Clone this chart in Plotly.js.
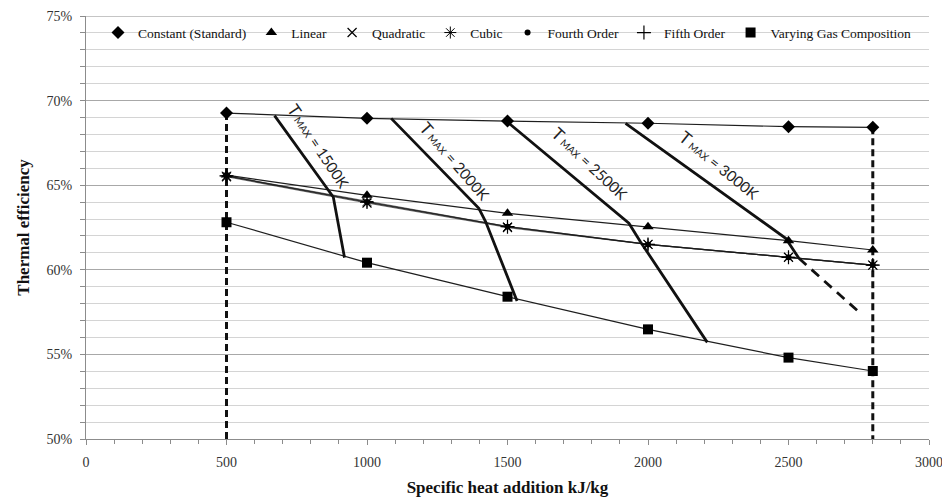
<!DOCTYPE html>
<html>
<head>
<meta charset="utf-8">
<script src="https://cdn.plot.ly/plotly-3.0.1.min.js"></script>
<style>
  html, body { margin: 0; padding: 0; background: #fff; }
  #chart { width: 942px; height: 499px; }
</style>
</head>
<body>
<div id="chart"></div>
<script>
// ---- data ----
const heatAddition = [500, 1000, 1500, 2000, 2500, 2800];
const seriesNames = ["Constant (Standard)", "Linear", "Quadratic", "Cubic", "Fourth Order", "Fifth Order", "Varying Gas Composition"];
const constantEff  = [69.26, 68.95, 68.79, 68.66, 68.46, 68.42];
const linearEff    = [65.60, 64.40, 63.34, 62.55, 61.72, 61.17];
const quadraticEff = [65.50, 63.95, 62.50, 61.50, 60.74, 60.28];
const cubicEff     = [65.55, 64.03, 62.55, 61.50, 60.74, 60.28];
const fourthEff    = [65.55, 64.00, 62.55, 61.50, 60.74, 60.28];
const fifthEff     = [65.55, 64.00, 62.55, 61.50, 60.74, 60.28];
const varyingEff   = [62.81, 60.42, 58.41, 56.48, 54.81, 54.02];

// bounding dashed verticals
const qLowX = [500, 500],   qLowY = [69.26, 50];
const qHighX = [2800, 2800], qHighY = [68.42, 50];

// T_max iso-lines
const t1500X = [671, 862, 880, 920],      t1500Y = [69.11, 64.75, 64.30, 60.72];
const t2000X = [1086, 1398, 1422, 1534],  t2000Y = [68.95, 63.63, 62.85, 58.16];
const t2500X = [1495, 1932, 1973, 2211],  t2500Y = [68.80, 62.75, 61.66, 55.71];
const t3000X = [1920, 2490, 2537],        t3000Y = [68.66, 61.86, 60.68];
const t3000ExtX = [2537, 2756],           t3000ExtY = [60.68, 57.43];
const tmaxLabels = ["1500K", "2000K", "2500K", "3000K"];

// ---- styling ----
const lineCol = '#1e1e1e';
const serif = 'Liberation Serif, Times New Roman, serif';
const seriesData = [constantEff, linearEff, quadraticEff, cubicEff, fourthEff, fifthEff, varyingEff];
// the four higher-order series overlap almost exactly, so their lines are lighter
const faint = 'rgba(20,20,20,0.6)';
const lineColors = [lineCol, lineCol, faint, faint, faint, faint, lineCol];
const markerStyles = [
  {symbol: 'diamond', size: 10},
  {symbol: 'triangle-up', size: 10},
  {symbol: 'x-thin-open', size: 9, line: {width: 1.2, color: lineCol}},
  {symbol: 'asterisk-open', size: 10, line: {width: 1, color: lineCol}},
  {symbol: 'circle', size: 6},
  {symbol: 'cross-thin-open', size: 10, line: {width: 1.2, color: lineCol}},
  {symbol: 'square', size: 10}
];

const traces = [];
seriesData.forEach((ys, i) => {
  traces.push({x: heatAddition, y: ys, mode: 'lines', showlegend: false, hoverinfo: 'skip',
    line: {color: lineColors[i], width: 1.2}});
});
[[t1500X, t1500Y], [t2000X, t2000Y], [t2500X, t2500Y], [t3000X, t3000Y]].forEach(([xs, ys]) => {
  traces.push({x: xs, y: ys, mode: 'lines', showlegend: false, line: {color: '#111', width: 2.8}});
});
traces.push({x: t3000ExtX, y: t3000ExtY, mode: 'lines', showlegend: false,
  line: {color: '#111', width: 2.8, dash: '10px,7px'}});
traces.push({x: qLowX, y: qLowY, mode: 'lines', showlegend: false, line: {color: '#111', width: 3, dash: '7px,4px'}});
traces.push({x: qHighX, y: qHighY, mode: 'lines', showlegend: false, line: {color: '#111', width: 3, dash: '7px,4px'}});
seriesData.forEach((ys, i) => {
  traces.push({x: heatAddition, y: ys, mode: 'markers', name: seriesNames[i],
    marker: Object.assign({color: '#000'}, markerStyles[i])});
});

const labelPos = [[828, 67.35, 56], [1312, 66.45, 49], [1795, 66.3, 43], [2252, 66.2, 39]];
const annotations = tmaxLabels.map((lab, i) => ({
  x: labelPos[i][0], y: labelPos[i][1], xref: 'x', yref: 'y',
  text: '<span style="font-size:17px">T</span><span style="font-size:10px"> MAX</span> = ' + lab,
  showarrow: false, textangle: labelPos[i][2],
  font: {family: 'Lato, Liberation Sans, sans-serif', size: 15, color: '#222'},
  xanchor: 'center', yanchor: 'middle'
}));

const layout = {
  width: 942, height: 499,
  margin: {l: 86, r: 13, t: 16, b: 60},
  paper_bgcolor: '#fff', plot_bgcolor: '#fff',
  font: {family: serif, color: '#333'},
  showlegend: true,
  legend: {orientation: 'h', x: 0.5, xanchor: 'center', y: 0.997, yanchor: 'top',
    bgcolor: 'rgba(0,0,0,0)', font: {family: serif, size: 13.5, color: '#111'},
    itemwidth: 30, tracegroupgap: 0},
  xaxis: {
    range: [0, 3000], dtick: 500, tick0: 0, showgrid: false, zeroline: false,
    showline: true, linecolor: '#8c8c8c', linewidth: 1,
    ticks: 'outside', ticklen: 5, tickcolor: '#8c8c8c', ticklabelstandoff: 5,
    ticklabeloverflow: 'allow',
    minor: {dtick: 100, ticks: 'outside', ticklen: 4, tickcolor: '#8c8c8c', showgrid: false},
    tickfont: {family: serif, size: 14, color: '#333'},
    title: {text: '<b>Specific heat addition kJ/kg</b>', font: {family: serif, size: 17, color: '#111'}, standoff: 12}
  },
  yaxis: {
    range: [50, 75], dtick: 5, tick0: 50, ticksuffix: '%', zeroline: false,
    showgrid: true, gridcolor: '#a8a8a8', gridwidth: 1,
    showline: true, linecolor: '#8c8c8c', linewidth: 1,
    ticks: 'outside', ticklen: 5, tickcolor: '#8c8c8c', ticklabelstandoff: 5,
    minor: {dtick: 1, ticks: 'outside', ticklen: 5, tickcolor: '#8c8c8c', showgrid: true, gridcolor: '#d4d4d4', gridwidth: 1},
    tickfont: {family: serif, size: 14, color: '#333'},
    title: {text: '<b>Thermal efficiency</b>', font: {family: serif, size: 17, color: '#111'}, standoff: 12}
  },
  shapes: [
    {type: 'rect', xref: 'paper', yref: 'y', x0: 0.001, x1: 1, y0: 73.1, y1: 74.9,
     fillcolor: '#fff', line: {width: 0}, layer: 'between'},
    {type: 'line', xref: 'paper', yref: 'y', x0: 0, x1: 1, y0: 75, y1: 75,
     line: {color: '#8c8c8c', width: 1}, layer: 'between'}
  ],
  annotations: annotations
};

Plotly.newPlot('chart', traces, layout, {displayModeBar: false, staticPlot: true});
</script>
</body>
</html>
